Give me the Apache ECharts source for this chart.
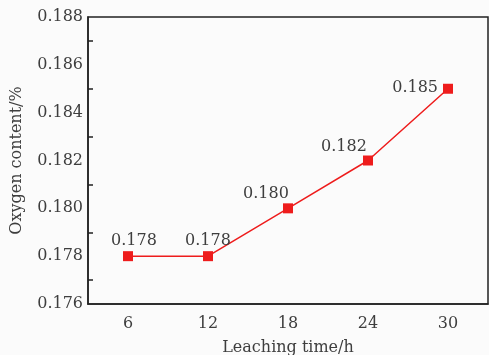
<!DOCTYPE html>
<html>
<head>
<meta charset="utf-8">
<script src="https://cdn.jsdelivr.net/npm/echarts@6/dist/echarts.min.js"></script>
<style>
  html, body { margin: 0; padding: 0; background: #fbfbfb; }
  #chart { width: 489px; height: 355px; }
</style>
</head>
<body>
<div id="chart"></div>
<script>
const categories = ["6", "12", "18", "24", "30"];
const oxygen = [0.178, 0.178, 0.180, 0.182, 0.185];

const font = "DejaVu Serif";
const textColor = "#3e3e3e";

// label placement per point (left-above for the rising part)
const labelPos = [
  { position: "top", offset: [6, 3] },
  { position: "top", offset: [0, 3] },
  { position: "top", offset: [-22, 4] },
  { position: "top", offset: [-24, 4] },
  { position: "left", offset: [0, -1] }
];

const chart = echarts.init(document.getElementById("chart"), null, { renderer: "canvas" });

chart.setOption({
  animation: false,
  backgroundColor: "#fbfbfb",
  grid: {
    left: 88, right: 1, top: 17, bottom: 51,
    outerBoundsMode: "none",
    containLabel: false,
    show: true, borderColor: "#222", borderWidth: 1.5
  },
  xAxis: {
    type: "category",
    data: categories,
    boundaryGap: true,
    name: "Leaching time/h",
    nameLocation: "middle",
    nameGap: 36,
    nameTextStyle: { fontFamily: font, fontSize: 16, color: textColor },
    axisLine: { lineStyle: { color: "#222", width: 1.5 } },
    axisTick: { inside: true, alignWithLabel: true, length: 5, lineStyle: { color: "#222", width: 1.5 } },
    axisLabel: { fontFamily: font, fontSize: 16, color: textColor, margin: 12 }
  },
  yAxis: {
    type: "value",
    min: 0.176,
    max: 0.188,
    interval: 0.002,
    name: "Oxygen content/%",
    nameLocation: "middle",
    nameGap: 63,
    nameTextStyle: { fontFamily: font, fontSize: 16, color: textColor },
    axisLine: { show: true, lineStyle: { color: "#222", width: 1.5 } },
    axisTick: { inside: true, length: 5, lineStyle: { color: "#222", width: 1.5 } },
    minorTick: { show: true, splitNumber: 2, length: 5, lineStyle: { color: "#222", width: 1.5 } },
    splitLine: { show: false },
    axisLabel: {
      fontFamily: font, fontSize: 16, color: textColor, margin: 5,
      formatter: (v) => v.toFixed(3)
    }
  },
  series: [
    {
      type: "line",
      data: oxygen.map((v, i) => ({
        value: v,
        label: { show: true, ...labelPos[i] }
      })),
      symbol: "rect",
      symbolSize: 10,
      itemStyle: { color: "#ee1c1c" },
      lineStyle: { color: "#ee1c1c", width: 1.5 },
      label: {
        fontFamily: font, fontSize: 16, color: textColor,
        formatter: (p) => p.value.toFixed(3)
      }
    }
  ]
});
</script>
</body>
</html>
